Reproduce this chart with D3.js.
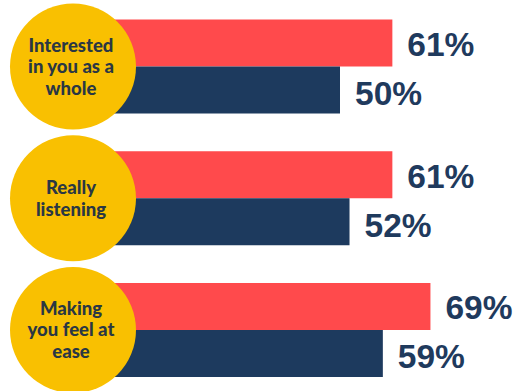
<!DOCTYPE html>
<html>
<head>
<meta charset="utf-8">
<script src="https://cdn.jsdelivr.net/npm/d3@7"></script>
<style>
  html, body { margin: 0; padding: 0; background: #ffffff; }
  svg { display: block; }
</style>
</head>
<body>
<svg id="chart" width="518" height="391"></svg>
<script>
// ---- data ----
const categories = ["Interested in you as a whole", "Really listening", "Making you feel at ease"];
const categoryLines = [["Interested", "in you as a", "whole"], ["Really", "listening"], ["Making", "you feel at", "ease"]];
const seriesNames = ["Series A", "Series B"];
const seriesA = [61, 61, 69];
const seriesB = [50, 52, 59];
const valueLabels = ["61%", "50%", "61%", "52%", "69%", "59%"];

// ---- layout ----
const W = 518, H = 391;
const colors = { "Series A": "#FF4A4C", "Series B": "#1D3A5E" };
const circleColor = "#F9C001";
const svg = d3.select("#chart");

const x = d3.scaleLinear().domain([0, 100]).range([102, 578]);
const y = d3.scaleBand().domain(categories).range([19.5, 377]).paddingInner(0.2865).paddingOuter(0);
const ySub = d3.scaleBand().domain(seriesNames).range([0, y.bandwidth()]);

const rows = [];
categories.forEach((c, i) => {
  rows.push({ cat: c, series: "Series A", value: seriesA[i], label: valueLabels[i * 2] });
  rows.push({ cat: c, series: "Series B", value: seriesB[i], label: valueLabels[i * 2 + 1] });
});

const g = svg.append("g");

g.selectAll("rect.bar").data(rows).join("rect")
  .attr("class", "bar")
  .attr("x", x(0))
  .attr("y", d => y(d.cat) + ySub(d.series))
  .attr("width", d => x(d.value) - x(0))
  .attr("height", ySub.bandwidth())
  .attr("fill", d => colors[d.series]);

g.selectAll("text.val").data(rows).join("text")
  .attr("class", "val")
  .attr("x", d => x(d.value) + 15)
  .attr("y", d => y(d.cat) + ySub(d.series) + ySub.bandwidth() / 2 + (d.series === "Series A" ? 13 : 15))
  .attr("font-family", "'Liberation Sans', Arial, sans-serif")
  .attr("font-weight", "bold")
  .attr("font-size", 33.5)
  .attr("fill", "#1F3A5D")
  .text(d => d.label);

const cx = 73, r = 63;
const circ = g.selectAll("g.cat").data(categories).join("g").attr("class", "cat");
circ.append("circle")
  .attr("cx", cx)
  .attr("cy", d => y(d) + y.bandwidth() / 2)
  .attr("r", r)
  .attr("fill", circleColor);

circ.each(function(d, i) {
  const lines = categoryLines[i];
  const cy = y(d) + y.bandwidth() / 2;
  const lh = 21.5;
  d3.select(this).selectAll("text").data(lines).join("text")
    .attr("x", cx - 2)
    .attr("y", (l, k) => cy + (k - (lines.length - 1) / 2) * lh + 6.5)
    .attr("text-anchor", "middle")
    .attr("font-family", "Lato, 'Open Sans', sans-serif")
    .attr("font-weight", 900)
    .attr("font-size", 18.5)
    .attr("fill", "#2A3744")
    .text(l => l);
});
</script>
</body>
</html>
